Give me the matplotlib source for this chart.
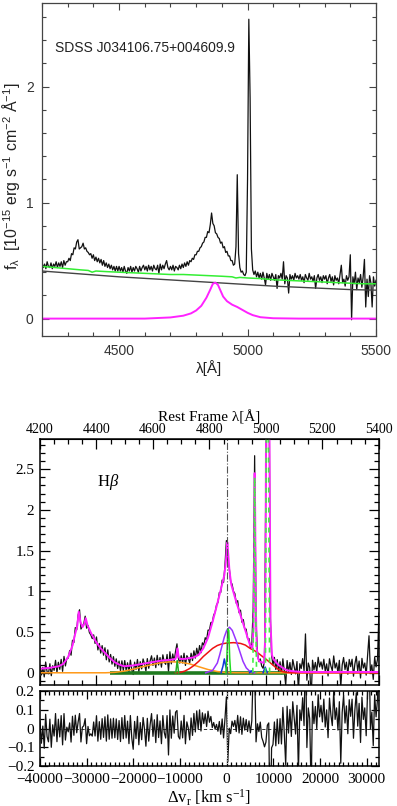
import numpy as np
import matplotlib
matplotlib.use("Agg")
import matplotlib.pyplot as plt
from matplotlib.ticker import MultipleLocator, FixedLocator, FuncFormatter

plt.rcParams.update({
    'mathtext.fontset': 'custom',
    'mathtext.rm': 'Liberation Serif',
    'mathtext.it': 'Liberation Serif:italic',
    'mathtext.bf': 'Liberation Serif:bold',
    'mathtext.sf': 'Liberation Sans',
    'axes.unicode_minus': True,
})

# ---------------------------------------------------------------- data
object_name = "SDSS J034106.75+004609.9"

# observed (rest-frame) spectrum, 5 A sampling from 4200 to 5500 A
wave = np.arange(4200, 5501, 5)
flux = [
    0.48, 0.44, 0.47, 0.43, 0.49, 0.45, 0.44, 0.48, 0.43, 0.47, 0.45, 0.49, 0.44, 0.48, 0.45, 0.49, 0.44, 0.50, 0.46, 0.49,
    0.49, 0.52, 0.50, 0.56, 0.55, 0.61, 0.60, 0.66, 0.68, 0.60, 0.61, 0.62, 0.65, 0.60, 0.61, 0.58, 0.57, 0.55, 0.56, 0.52,
    0.55, 0.50, 0.53, 0.49, 0.52, 0.48, 0.51, 0.46, 0.50, 0.45, 0.48, 0.44, 0.47, 0.43, 0.46, 0.42, 0.45, 0.41, 0.45, 0.41,
    0.45, 0.41, 0.44, 0.40, 0.45, 0.41, 0.39, 0.44, 0.41, 0.45, 0.40, 0.44, 0.41, 0.45, 0.43, 0.40, 0.45, 0.41, 0.44, 0.46,
    0.42, 0.45, 0.41, 0.46, 0.42, 0.45, 0.41, 0.46, 0.43, 0.42, 0.46, 0.39, 0.47, 0.42, 0.46, 0.43, 0.47, 0.50, 0.44, 0.42,
    0.45, 0.42, 0.46, 0.41, 0.45, 0.44, 0.42, 0.46, 0.43, 0.47, 0.44, 0.48, 0.45, 0.49, 0.46, 0.50, 0.49, 0.52, 0.51, 0.55,
    0.55, 0.58, 0.58, 0.61, 0.62, 0.65, 0.66, 0.70, 0.70, 0.75, 0.74, 0.81, 0.91, 0.82, 0.80, 0.74, 0.73, 0.70, 0.69, 0.65,
    0.66, 0.61, 0.62, 0.57, 0.58, 0.54, 0.54, 0.50, 0.50, 0.46, 0.47, 0.62, 1.24, 0.56, 0.44, 0.40, 0.41, 0.38, 0.37, 0.40,
    1.20, 2.58, 1.90, 0.60, 0.42, 0.38, 0.41, 0.36, 0.40, 0.35, 0.39, 0.34, 0.40, 0.35, 0.29, 0.39, 0.34, 0.38, 0.33, 0.39,
    0.36, 0.33, 0.38, 0.26, 0.37, 0.35, 0.39, 0.34, 0.49, 0.30, 0.37, 0.35, 0.22, 0.38, 0.34, 0.37, 0.33, 0.39, 0.35, 0.37,
    0.34, 0.38, 0.33, 0.36, 0.31, 0.38, 0.35, 0.33, 0.39, 0.34, 0.36, 0.32, 0.37, 0.26, 0.35, 0.38, 0.33, 0.36, 0.31, 0.37,
    0.34, 0.37, 0.30, 0.35, 0.38, 0.32, 0.36, 0.29, 0.37, 0.33, 0.35, 0.30, 0.38, 0.46, 0.31, 0.34, 0.28, 0.37, 0.33, 0.36,
    0.55, -0.01, 0.36, 0.30, 0.40, 0.25, 0.35, 0.31, 0.38, 0.27, 0.36, 0.51, 0.10, 0.34, 0.19, 0.37, 0.31, 0.10, 0.36, 0.28, 0.33,
]

# continuum + FeII template (green)
cont_wave = [4200, 4250, 4300, 4350, 4380, 4395, 4410, 4450, 4500, 4550, 4600, 4650, 4700, 4750,
             4800, 4850, 4900, 4940, 4955, 4970, 5000, 5050, 5100, 5150, 5200, 5250, 5300, 5350,
             5400, 5450, 5500]
cont_feii = [0.45, 0.44, 0.43, 0.42, 0.415, 0.40, 0.41, 0.405, 0.40, 0.395, 0.39, 0.385, 0.38, 0.38,
             0.375, 0.37, 0.365, 0.36, 0.35, 0.355, 0.35, 0.345, 0.335, 0.33, 0.325, 0.32, 0.315, 0.31,
             0.305, 0.30, 0.30]

# power-law continuum (grey)
pl_wave = [4200, 4350, 4500, 4650, 4800, 4950, 5100, 5250, 5400, 5500]
pl_flux = [0.41, 0.385, 0.36, 0.34, 0.32, 0.30, 0.28, 0.265, 0.25, 0.245]

# broad H-beta profile (magenta, top panel)
hb_wave = [4200, 4600, 4700, 4750, 4780, 4800, 4820, 4840, 4855, 4865, 4875, 4885, 4895, 4905,
           4920, 4940, 4960, 4980, 5000, 5020, 5050, 5100, 5200, 5500]
hb_flux = [0.0, 0.0, 0.01, 0.025, 0.045, 0.07, 0.11, 0.18, 0.25, 0.30, 0.31, 0.29, 0.24, 0.19,
           0.15, 0.12, 0.10, 0.075, 0.05, 0.03, 0.012, 0.003, 0.0, 0.0]

# bottom panel: continuum-subtracted flux scale and velocity scale
norm_factor = 3.0
lam0 = 4861.0
kms_per_ang = 40000.0 / 661.0
top_lam_major = [4200, 4400, 4600, 4800, 5000, 5200, 5400]
top_lam_minor = list(range(4200, 5401, 50))

# total fit (magenta) vs velocity
fit_v = [-40000, -38000, -36000, -35000, -34000, -33000, -32500, -32000, -31700, -31300, -30900,
         -30500, -30200, -29800, -29000, -28000, -27000, -26000, -25000, -24000, -23000, -22000,
         -20000, -18000, -16000, -14000, -12000, -11000, -10800, -10550, -10300, -10000, -9000,
         -8000, -7000, -6000, -5000, -4000, -3000, -2000, -1000, -500, -200, 0, 150, 350, 600,
         1000, 1500, 2000, 3000, 4000, 5000, 5500, 5750, 5900, 6000, 6100, 6250, 6450, 6700, 7000,
         8000, 8200, 8330, 8430, 8716, 9020, 9250, 9400, 9700, 10000, 11000, 12000, 13000, 14000,
         16000, 20000, 32640]
fit_f = [0.05, 0.06, 0.08, 0.11, 0.19, 0.34, 0.47, 0.58, 0.75, 0.62, 0.56,
         0.60, 0.67, 0.58, 0.48, 0.38, 0.30, 0.24, 0.18, 0.13, 0.10, 0.08,
         0.09, 0.11, 0.13, 0.15, 0.16, 0.17, 0.20, 0.30, 0.20, 0.17, 0.17,
         0.18, 0.19, 0.22, 0.30, 0.43, 0.63, 0.85, 1.08, 1.20, 1.35, 1.50, 1.60, 1.45, 1.25,
         1.08, 0.98, 0.88, 0.70, 0.52, 0.34, 0.30, 0.55, 1.40, 2.45, 2.00, 0.80, 0.30, 0.18, 0.14,
         0.12, 0.35, 1.40, 2.90, 6.70, 4.60, 2.00, 0.60, 0.22, 0.17, 0.10, 0.06, 0.03, 0.02,
         0.01, 0.01, 0.01]

# broad component (purple)
purple_v = [-4500, -3000, -2000, -1500, -1000, -500, 0, 600, 1200, 2000, 2700, 3500, 4200, 5000, 6000]
purple_f = [0.0, 0.03, 0.12, 0.22, 0.33, 0.44, 0.52, 0.56, 0.52, 0.40, 0.28, 0.14, 0.06, 0.015, 0.0]

# very broad component (red)
red_v = [-11000, -10000, -9000, -8000, -7000, -6000, -5000, -4000, -3000, -2000, -1000, 0, 1500,
         3000, 4000, 5000, 6000, 7000, 8000, 9000, 10000, 11000, 12000, 13000, 14000, 32640]
red_f = [0.0, 0.005, 0.02, 0.05, 0.09, 0.14, 0.20, 0.25, 0.30, 0.335, 0.355, 0.365, 0.37,
         0.36, 0.34, 0.30, 0.27, 0.23, 0.185, 0.14, 0.09, 0.045, 0.015, 0.003, 0.0, 0.0]

# blended broad feature (orange)
orange_v = [-40000, -26000, -24000, -22000, -20000, -18000, -16000, -14000, -12000, -10000,
            -8000, -6000, -4000, -2000, 0, 2000, 32640]
orange_f = [0.0, 0.0, 0.005, 0.02, 0.045, 0.075, 0.10, 0.125, 0.135, 0.13,
            0.11, 0.075, 0.04, 0.015, 0.003, 0.0, 0.0]

# blue-shifted narrow components (blue)
blue_hb_v = [-1200, -800, -500, -200, 150]
blue_hb_f = [0.0, 0.08, 0.17, 0.08, 0.0]
blue_o1_v = [4900, 5250, 5600]
blue_o1_f = [0.0, 0.025, 0.0]
blue_o2_v = [7800, 8250, 8700]
blue_o2_f = [0.0, 0.07, 0.0]

# narrow components (green)
green_hb_v = [-150, 50, 250, 450, 650, 850]
green_hb_f = [0.0, 0.20, 0.54, 0.52, 0.18, 0.0]
green_he_v = [-10900, -10600, -10300]
green_he_f = [0.0, 0.15, 0.0]
green_o1_v = [5600, 5850, 6000, 6150, 6400]
green_o1_f = [0.0, 1.10, 2.40, 1.10, 0.0]
green_o2_v = [8300, 8500, 8716, 8950, 9200]
green_o2_f = [0.0, 3.0, 6.6, 3.0, 0.0]

# very low broad component along the baseline (dark green)
dkgreen_v = [-25000, 13000]
dkgreen_f = [0.0, 0.0]


def lam2v(lam):
    return (np.asarray(lam, dtype=float) - lam0) * kms_per_ang


def v2lam(v):
    return lam0 + np.asarray(v, dtype=float) / kms_per_ang


flux_arr = np.asarray(flux)
flux_sub = norm_factor * (flux_arr - np.interp(wave, cont_wave, cont_feii))
vel = lam2v(wave)
resid = flux_sub - np.interp(vel, fit_v, fit_f)

# ---------------------------------------------------------------- figure
fig = plt.figure(figsize=(3.97, 8.06), dpi=100)

sans = 'Liberation Sans'
serif = 'Liberation Serif'
gfmt = FuncFormatter(lambda y, _: ('%g' % y).replace('-', '\u2212'))

# ----- top panel
ax1 = fig.add_axes([42 / 397, 1 - 336 / 806, 334 / 397, 333 / 806])
ax1.plot(wave, flux_arr, color='#111111', lw=0.9)
ax1.plot(cont_wave, cont_feii, color='#33ee33', lw=1.1)
ax1.plot(pl_wave, pl_flux, color='#444444', lw=1.0)
ax1.plot(hb_wave, hb_flux, color='#ff22ff', lw=1.4)
ax1.set_xlim(4200, 5500)
ax1.set_ylim(-0.15, 2.72)
ax1.xaxis.set_major_locator(FixedLocator([4500, 5000, 5500]))
ax1.xaxis.set_minor_locator(MultipleLocator(100))
ax1.yaxis.set_major_locator(MultipleLocator(1))
ax1.yaxis.set_minor_locator(MultipleLocator(0.2))
ax1.yaxis.set_major_formatter(gfmt)
ax1.tick_params(which='both', direction='in', top=True, right=True, color='#444444',
                labelsize=10, labelcolor='#333333')
ax1.tick_params(which='major', length=5, width=0.8, pad=6)
ax1.tick_params(which='minor', length=3, width=0.8)
for lab in ax1.get_xticklabels() + ax1.get_yticklabels():
    lab.set_family(sans)
for s in ax1.spines.values():
    s.set_color('#444444')
    s.set_linewidth(0.9)
ax1.text(0.039, 0.865, object_name, transform=ax1.transAxes, ha='left', va='center',
         fontsize=10, family=sans, color='#222222')
ax1.set_xlabel('\u03bb[\u00c5]', fontsize=11, family=sans, color='#222222')
ax1.xaxis.set_label_coords(0.5, -0.072)
ax1.set_ylabel(r'f$_{\mathsf{\lambda}}$  [10$^{\mathsf{-15}}$ erg s$^{\mathsf{-1}}$ cm$^{\mathsf{-2}}$ '
               r'$\mathsf{\AA}^{\mathsf{-1}}$]', fontsize=11.5, family=sans, color='#222222')
ax1.yaxis.set_label_coords(-0.06, 0.479)

# ----- bottom main panel
vlim = (-40000, 32640)
ax2 = fig.add_axes([40 / 397, 1 - 685 / 806, 339 / 397, 246 / 806])
ax2.plot(vel, flux_sub, color='#111111', lw=0.9)
ax2.plot(dkgreen_v, dkgreen_f, color='#1f7a1f', lw=2.6, solid_capstyle='butt')
ax2.plot(orange_v, orange_f, color='#ff9a1a', lw=1.1)
ax2.plot(red_v, red_f, color='#ee1111', lw=1.1)
ax2.plot(purple_v, purple_f, color='#9933ff', lw=1.1)
ax2.plot(blue_hb_v, blue_hb_f, color='#1133dd', lw=1.1)
ax2.plot(blue_o1_v, blue_o1_f, color='#1133dd', lw=1.1)
ax2.plot(blue_o2_v, blue_o2_f, color='#1133dd', lw=1.1)
ax2.plot(green_hb_v, green_hb_f, color='#22dd22', lw=1.1)
ax2.plot(green_he_v, green_he_f, color='#22aa22', lw=1.1)
ax2.plot(fit_v, fit_f, color='#ff22ff', lw=1.4)
ax2.plot(green_o1_v, green_o1_f, color='#44ee44', lw=1.2, ls=(0, (3, 3)))
ax2.plot(green_o2_v, green_o2_f, color='#44ee44', lw=1.2, ls=(0, (3, 3)))
ax2.axvline(0, color='#555555', lw=0.8, ls='-.')
ax2.set_xlim(*vlim)
ax2.set_ylim(-0.15, 2.87)
ax2.xaxis.set_major_locator(FixedLocator(lam2v(top_lam_major)))
ax2.xaxis.set_minor_locator(FixedLocator(lam2v(top_lam_minor)))
ax2.yaxis.set_major_locator(MultipleLocator(0.5))
ax2.yaxis.set_minor_locator(MultipleLocator(0.1))
ax2.yaxis.set_major_formatter(gfmt)
ax2.tick_params(which='both', direction='in', top=False, right=True, labelbottom=False,
                labelsize=11, width=0.9)
ax2.tick_params(which='major', length=7, pad=4)
ax2.tick_params(which='minor', length=3.5)
for lab in ax2.get_yticklabels():
    lab.set_family(serif)
for s in ax2.spines.values():
    s.set_linewidth(1.1)
ax2.text(-25400, 2.34, r'H$\beta$', ha='center', va='center', fontsize=12, family=serif)

sec = ax2.secondary_xaxis('top', functions=(v2lam, lam2v))
sec.xaxis.set_major_locator(FixedLocator(top_lam_major))
sec.xaxis.set_minor_locator(FixedLocator(top_lam_minor))
sec.tick_params(which='both', direction='in', labelsize=10, width=0.9)
sec.tick_params(which='major', length=7, pad=2)
sec.tick_params(which='minor', length=3.5)
for lab in sec.get_xticklabels():
    lab.set_family(serif)
sec.set_xlabel('Rest Frame \u03bb[\u00c5]', fontsize=11, family=serif, labelpad=1)

# ----- residual panel
ax3 = fig.add_axes([40 / 397, 1 - 766 / 806, 339 / 397, 75 / 806])
ax3.plot(vel, resid, color='#111111', lw=0.9)
ax3.axhline(0, color='#111111', lw=0.6, ls=(0, (4, 3)))
ax3.axvline(0, color='#cccccc', lw=0.7, ls=':')
ax3.set_xlim(*vlim)
ax3.set_ylim(-0.2, 0.2)
ax3.xaxis.set_major_locator(MultipleLocator(10000))
ax3.xaxis.set_minor_locator(MultipleLocator(1000))
ax3.yaxis.set_major_locator(MultipleLocator(0.1))
ax3.yaxis.set_minor_locator(MultipleLocator(0.05))
ax3.xaxis.set_major_formatter(gfmt)
ax3.yaxis.set_major_formatter(gfmt)
ax3.tick_params(which='both', direction='in', top=True, right=True, labelsize=11, width=0.9)
ax3.tick_params(which='major', length=6)
ax3.tick_params(axis='x', which='major', pad=5)
ax3.tick_params(axis='y', which='major', pad=4)
ax3.tick_params(which='minor', length=3)
for lab in ax3.get_xticklabels() + ax3.get_yticklabels():
    lab.set_family(serif)
for s in ax3.spines.values():
    s.set_linewidth(1.1)
ax3.set_xlabel(r'$\Delta$v$_{\rm r}$ [km s$^{-1}$]', fontsize=12, family=serif, labelpad=1)

fig.savefig('out.png', dpi=100)
